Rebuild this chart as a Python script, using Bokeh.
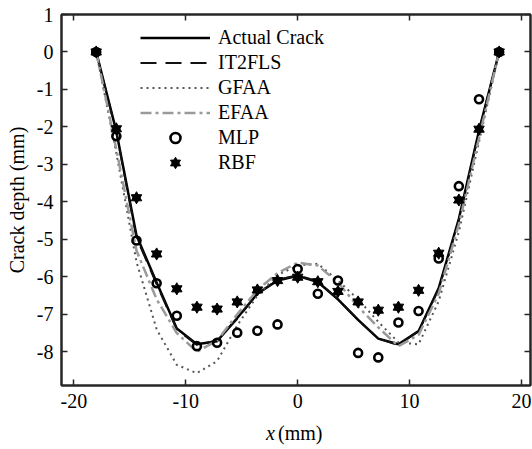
from bokeh.plotting import figure
from bokeh.layouts import column
from bokeh.models import LinearAxis, Legend, LegendItem, Range1d, FixedTicker
from bokeh.core.properties import value
from bokeh.embed import file_html
from bokeh.resources import INLINE

# ---- data ----
x_pos = [-18, -16.2, -14.4, -12.6, -10.8, -9, -7.2, -5.4, -3.6, -1.8, 0,
         1.8, 3.6, 5.4, 7.2, 9, 10.8, 12.6, 14.4, 16.2, 18]
actual = [0, -2.12, -4.9, -6.15, -7.38, -7.8, -7.72, -7.1, -6.45, -6.1, -5.97,
          -6.14, -6.6, -7.15, -7.65, -7.8, -7.45, -6.3, -4.45, -2.1, 0]
it2fls = [0, -2.15, -4.95, -6.2, -7.4, -7.82, -7.7, -7.12, -6.45, -6.08, -5.96,
          -6.12, -6.6, -7.15, -7.65, -7.82, -7.45, -6.32, -4.5, -2.12, 0]
gfaa = [0, -2.7, -5.6, -7.4, -8.35, -8.57, -8.25, -7.3, -6.5, -5.95, -5.7,
        -5.65, -6.1, -6.6, -7.2, -7.75, -7.8, -6.65, -4.8, -2.4, 0]
efaa = [0, -2.6, -5.3, -6.6, -7.5, -8.0, -7.7, -7.0, -6.35, -5.9, -5.62,
        -5.7, -6.15, -6.8, -7.35, -7.85, -7.55, -6.45, -4.6, -2.3, 0]
mlp = [0, -2.25, -5.03, -6.17, -7.04, -7.85, -7.76, -7.49, -7.44, -7.27, -5.79,
       -6.45, -6.10, -8.03, -8.15, -7.22, -6.91, -5.51, -3.58, -1.26, 0]
rbf = [0, -2.05, -3.89, -5.39, -6.32, -6.81, -6.86, -6.67, -6.35, -6.10, -6.01,
       -6.13, -6.39, -6.67, -6.89, -6.81, -6.36, -5.37, -3.95, -2.06, 0]
x_ticks = [-20, -10, 0, 10, 20]
y_ticks = [1, 0, -1, -2, -3, -4, -5, -6, -7, -8]

FONT = "Liberation Serif"
AX = "#262626"

xr = Range1d(-21.1, 20.8)
p = figure(width=532, height=420, output_backend="svg", toolbar_location=None,
           x_range=xr, y_range=Range1d(-8.9, 1),
           min_border_left=61, min_border_right=2, min_border_top=14,
           min_border_bottom=35, background_fill_color="white",
           border_fill_color="white")
p.grid.visible = False
p.outline_line_color = AX
p.outline_line_width = 2


def style_axis(ax, ticks, labels=True):
    ax.ticker = FixedTicker(ticks=ticks)
    ax.major_tick_in = 6
    ax.major_tick_out = 0
    ax.minor_tick_line_color = None
    ax.axis_line_color = AX
    ax.axis_line_width = 2
    ax.major_tick_line_color = AX
    ax.major_tick_line_width = 1.5
    ax.major_label_text_font = FONT
    ax.major_label_text_color = "black"
    if labels:
        ax.major_label_text_font_size = "20px"
        ax.major_label_standoff = 8
        ax.major_label_overrides = {t: str(t) for t in ticks}
    else:
        ax.major_label_text_font_size = "1px"
        ax.major_label_standoff = 0
        ax.major_label_overrides = {t: "" for t in ticks}


style_axis(p.xaxis[0], x_ticks)
style_axis(p.yaxis[0], y_ticks)
p.yaxis[0].axis_label = "Crack depth (mm)"
p.yaxis[0].axis_label_text_font = FONT
p.yaxis[0].axis_label_text_font_style = "normal"
p.yaxis[0].axis_label_text_font_size = "20px"
p.yaxis[0].axis_label_text_color = "black"
p.yaxis[0].axis_label_standoff = 6

top = LinearAxis()
style_axis(top, x_ticks, labels=False)
p.add_layout(top, "above")
right = LinearAxis()
style_axis(right, y_ticks, labels=False)
p.add_layout(right, "right")

# ---- series ----
r_act = p.line(x_pos, actual, line_color="black", line_width=2.5)
r_it2 = p.line(x_pos, it2fls, line_color="#111111", line_width=2, line_dash="16 9")
r_gf = p.line(x_pos, gfaa, line_color="#555555", line_width=2, line_dash="2 4")
r_ef = p.line(x_pos, efaa, line_color="#9a9a9a", line_width=2.5, line_dash="11 4 3 4")
r_mlp = p.scatter(x_pos, mlp, marker="circle", size=8, fill_color=None,
                  line_color="black", line_width=2.6)
r_rb1 = p.scatter(x_pos, rbf, marker="triangle", size=10.5, fill_color="black",
                  line_color="black", line_width=1)
r_rb2 = p.scatter(x_pos, rbf, marker="inverted_triangle", size=10.5, fill_color="black",
                  line_color="black", line_width=1)

legend = Legend(items=[
    LegendItem(label="Actual Crack", renderers=[r_act]),
    LegendItem(label="IT2FLS", renderers=[r_it2]),
    LegendItem(label="GFAA", renderers=[r_gf]),
    LegendItem(label="EFAA", renderers=[r_ef]),
    LegendItem(label="MLP", renderers=[r_mlp]),
    LegendItem(label="RBF", renderers=[r_rb1, r_rb2]),
], location=(79, 210))
legend.border_line_color = None
legend.background_fill_alpha = 0
legend.padding = 0
legend.margin = 0
legend.spacing = 0
legend.glyph_width = 70
legend.glyph_height = 25
legend.label_height = 25
legend.label_standoff = 8
legend.label_text_font = FONT
legend.label_text_font_size = "20px"
legend.label_text_color = "black"
p.add_layout(legend)

# ---- x-axis title strip (italic x + "(mm)"), sharing the plot's x range ----
q = figure(width=532, height=29, output_backend="svg", toolbar_location=None,
           x_range=xr, y_range=Range1d(0, 29),
           x_axis_type=None, y_axis_type=None, min_border=0,
           background_fill_color="white", border_fill_color="white")
q.grid.visible = False
q.outline_line_color = None
q.text(x=[-2.84], y=[17], text=["x"], text_font=value(FONT), text_font_style="italic",
       text_font_size="20px", text_color="black", text_align="left",
       text_baseline="middle")
q.text(x=[-1.75], y=[17], text=["(mm)"], text_font=value(FONT),
       text_font_size="20px", text_color="black", text_align="left",
       text_baseline="middle")

layout = column(p, q, spacing=0)
open("out.html", "w").write(file_html(layout, INLINE))
